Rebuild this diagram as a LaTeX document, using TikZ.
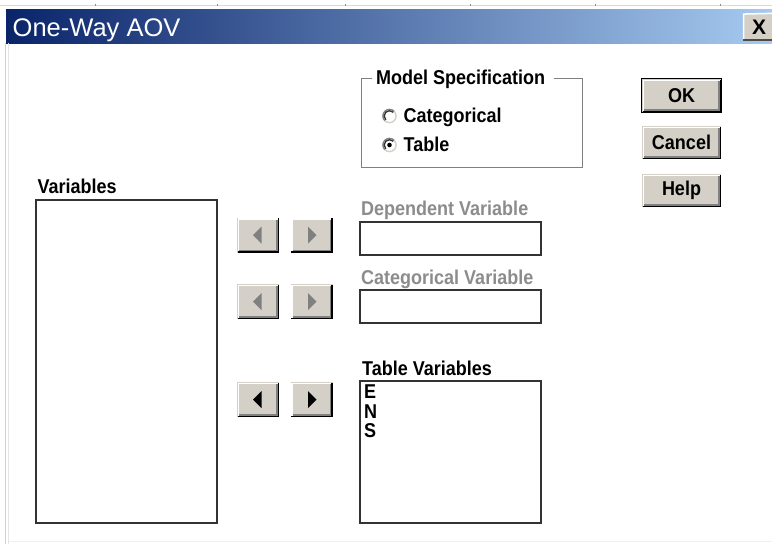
\documentclass[tikz,border=0pt]{standalone}
\usepackage{fontspec}
\setmainfont{Liberation Sans}
\newfontfamily\uifont[FakeStretch=0.9]{Liberation Sans}
\usetikzlibrary{calc}
\definecolor{btnface}{HTML}{D4D0C8}
\definecolor{btnshadow}{HTML}{808080}
\definecolor{titleL}{HTML}{0A246A}
\definecolor{titleR}{HTML}{A6CAF0}
\definecolor{disabled}{HTML}{8C8C8C}
\newcommand\lblfont{\uifont\fontsize{20}{22}\selectfont\bfseries}
\begin{document}
\begin{tikzpicture}[x=1pt,y=-1pt,
  lbl/.style={anchor=base west, inner sep=0pt, font=\lblfont},
  dislbl/.style={lbl, text=disabled},
  winbtn/.style={rectangle, fill=btnface, inner sep=0pt, font=\lblfont},
  listbox/.style={rectangle, draw=black!80, line width=1.6pt, fill=white, inner sep=0pt},
  radio/.style={circle, draw=none, fill=white, minimum size=14pt, inner sep=0pt}
]
\useasboundingbox (0,0) rectangle (772,544);
\fill[white] (0,0) rectangle (772,544);
% top strip
\draw[black!15, line width=0.8pt] (0,5.5) -- (772,5.5);
\foreach \tx in {95,217,345,470,595,720} \draw[black!45, line width=0.8pt] (\tx,3.5) -- (\tx,6);
% title bar
\shade[left color=titleL, right color=titleR, shading=axis] (6,9) rectangle (772,43);
\node[anchor=base west, inner sep=0pt, text=white, font=\fontsize{25.5}{27}\selectfont] (title) at (12.5,36) {One-Way AOV};
% close button
\node[winbtn, minimum width=32pt, minimum height=27pt, font=\fontsize{21}{21}\selectfont\bfseries] (close) at (759,27) {X};
\draw[white, line width=1.5pt] ($(close.south west)+(0.75,-1)$) -- ($(close.north west)+(0.75,0.75)$) -- (close.north east);
\draw[black!70, line width=1.5pt] ($(close.south west)+(0,-0.75)$) -- ($(close.south east)+(0,-0.75)$);
% window left border
\draw[btnface, line width=1.5pt] (5.5,43) -- (5.5,544);
\draw[black!10, line width=1pt] (8.5,43) -- (8.5,544);
\draw[black!6, line width=1pt] (9,541) -- (772,541);

% Model specification group
\coordinate (gNW) at (361,78);
\coordinate (gSE) at (582,167);
\draw[btnshadow, line width=1pt] (372,78) -- (gNW) |- (gSE) |- (554,78);
\draw[white, line width=1pt] (372,79.2) -- (362.2,79.2) -- (362.2,165.8);
\node[lbl] (modelspec) at (376,84.5) {Model Specification};
\node[radio] (rcat) at (389.5,116) {};
\node[radio] (rtab) at (389.5,145) {};
\foreach \n in {rcat,rtab} {
  \draw[btnface, line width=1.4pt] ($(\n.center)+(-45:6.6)$) arc[start angle=-45, end angle=135, radius=6.6];
  \draw[btnshadow, line width=1.4pt] ($(\n.center)+(-45:6.6)$) arc[start angle=-45, end angle=-225, radius=6.6];
  \draw[black!80, line width=1.3pt] ($(\n.center)+(-45:5.3)$) arc[start angle=-45, end angle=-225, radius=5.3];
}
\fill[black] (rtab.center) circle (2.3pt);
\node[lbl] (tcat) at (403.5,122.5) {Categorical};
\node[lbl] (ttab) at (403.5,151.5) {Table};

% OK / Cancel / Help
\node[winbtn, minimum width=79pt, minimum height=33pt] (ok) at (681.5,95.5) {OK};
\node[winbtn, minimum width=79pt, minimum height=33pt] (cancel) at (681.5,142.5) {Cancel};
\node[winbtn, minimum width=79pt, minimum height=33pt] (help) at (681.5,190.5) {Help};
\draw[black, line width=1pt] (ok.south west) rectangle (ok.north east);

% arrow buttons
\foreach \r/\yy in {1/235, 2/301.5, 3/399.5} {
  \node[winbtn, minimum width=42pt, minimum height=35pt] (l\r) at (258,\yy) {};
  \node[winbtn, minimum width=42pt, minimum height=35pt] (r\r) at (311.5,\yy) {};
}
\foreach \n in {ok,cancel,help,l1,r1,l2,r2,l3,r3} {
  \draw[white, line width=1.5pt] ($(\n.south west)+(1.5,-1.5)$) -- ($(\n.north west)+(1.5,1.5)$) -- ($(\n.north east)+(-1.5,1.5)$);
  \draw[black, line width=1.5pt] ($(\n.south west)+(0.75,-0.75)$) -- ($(\n.south east)+(-0.75,-0.75)$) -- ($(\n.north east)+(-0.75,0.75)$);
  \draw[btnshadow, line width=1.5pt] ($(\n.south west)+(2.25,-2.25)$) -- ($(\n.south east)+(-2.25,-2.25)$) -- ($(\n.north east)+(-2.25,2.25)$);
}
\foreach \r/\c in {1/btnshadow, 2/btnshadow, 3/black} {
  \fill[\c] ($(l\r.center)+(3.5,-8.5)$) -- ($(l\r.center)+(3.5,8.5)$) -- ($(l\r.center)+(-5,0)$) -- cycle;
  \fill[\c] ($(r\r.center)+(-3.5,-8.5)$) -- ($(r\r.center)+(-3.5,8.5)$) -- ($(r\r.center)+(5,0)$) -- cycle;
}

% Variables list
\node[lbl] (tvars) at (37.5,193.5) {Variables};
\node[listbox, minimum width=181pt, minimum height=323pt] (vars) at (126.5,361.5) {};

% Dependent variable
\node[dislbl] (tdep) at (361,215) {Dependent Variable};
\node[listbox, minimum width=181pt, minimum height=33pt] (dep) at (450.5,238.5) {};
% Categorical variable
\node[dislbl] (tcatv) at (361,284) {Categorical Variable};
\node[listbox, minimum width=181pt, minimum height=33pt] (catv) at (450.5,306.5) {};
% Table variables
\node[lbl] (ttabv) at (362,375) {Table Variables};
\node[listbox, minimum width=181pt, minimum height=142pt] (tabv) at (450.5,452) {};
\node[lbl] (vE) at (364,398) {E};
\node[lbl] (vN) at (364,418) {N};
\node[lbl] (vS) at (364,437.5) {S};
\end{tikzpicture}
\end{document}
